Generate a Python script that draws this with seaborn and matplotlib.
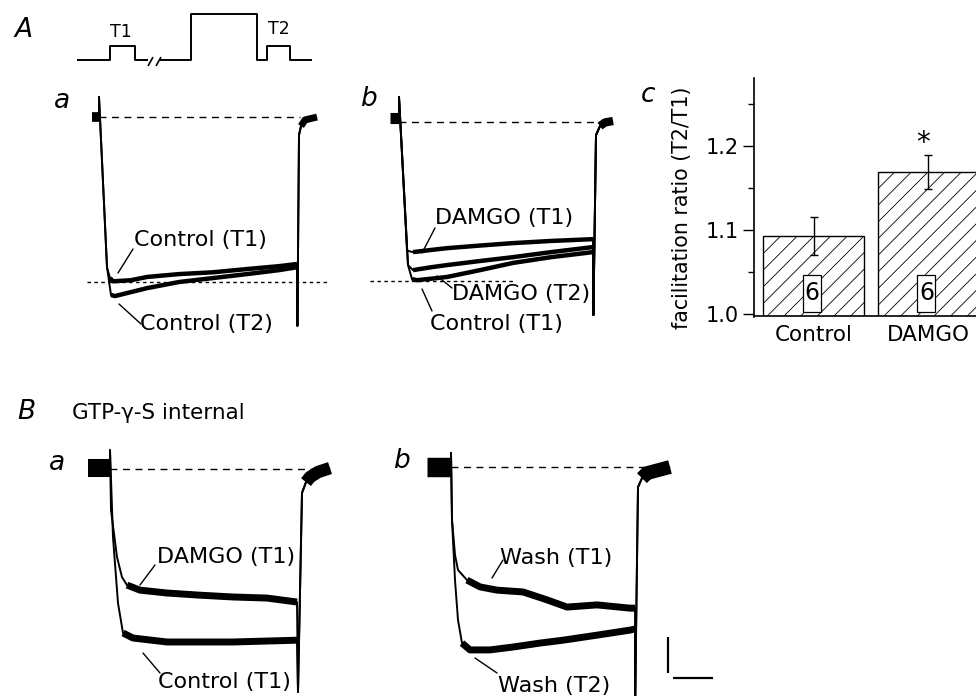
import numpy as np
import matplotlib
matplotlib.use("Agg")
import matplotlib.pyplot as plt
import seaborn as sns
from matplotlib.patches import Rectangle

# ---- trace data (time in ms, current in nA; 0 = holding level) ----
# A a: control, T1 vs T2
aa_on_t = [0.0, 0.0, 2.0]
aa_on_i = [0.0, 0.056, -0.417]
aa_ctl1_t = [2.0, 2.75, 3.5, 8, 12, 20, 28.5, 37, 45, 49.5]
aa_ctl1_i = [-0.417, -0.447, -0.456, -0.453, -0.444, -0.436, -0.431, -0.422, -0.414, -0.408]
aa_ctl2_t = [2.0, 3.0, 4.0, 8, 12, 20, 28.5, 37, 45, 49.5]
aa_ctl2_i = [-0.417, -0.494, -0.497, -0.486, -0.475, -0.458, -0.447, -0.436, -0.425, -0.417]
aa_tail_t = [49.6, 50.0]
aa_tail_i = [-0.58, -0.05]
aa_post_t = [50.0, 50.5, 51.5, 54.5]
aa_post_i = [-0.05, -0.025, -0.008, 0.0]

# A b: DAMGO T1/T2 and control T1
ab_on_t = [0.0, 0.0]
ab_on_i = [0.0, 0.067]
ab_dam1_t = [2.0, 3.5, 8, 12, 20, 28.5, 38, 48.5]
ab_dam1_i = [-0.36, -0.364, -0.358, -0.353, -0.346, -0.339, -0.333, -0.328]
ab_dam2_t = [2.25, 3.5, 8, 12, 20, 28.5, 38, 48.5]
ab_dam2_i = [-0.40, -0.414, -0.406, -0.40, -0.389, -0.378, -0.364, -0.35]
ab_ctl1_t = [2.25, 3.25, 4.5, 12, 20.25, 28.5, 38, 48.5]
ab_ctl1_i = [-0.40, -0.439, -0.442, -0.433, -0.414, -0.394, -0.378, -0.364]
ab_tail_t = [48.6, 49.25]
ab_tail_i = [-0.539, -0.039]
ab_post_t = [49.25, 50.25, 51.5, 53.5]
ab_post_i = [-0.039, -0.014, -0.004, 0.0]

# B a: GTP-g-S internal, control T1 vs DAMGO T1
ba_on_t = [0.0, 0.0]
ba_on_i = [0.0, 0.05]
ba_dam_t = [0.25, 1.75, 3.0, 4.25, 7.5, 14.25, 22.5, 30.75, 39.25, 46.75]
ba_dam_i = [-0.117, -0.247, -0.303, -0.325, -0.339, -0.347, -0.353, -0.358, -0.361, -0.372]
ba_ctl_t = [0.75, 2.0, 3.25, 5.75, 14.25, 30.75, 46.75]
ba_ctl_i = [-0.192, -0.375, -0.458, -0.472, -0.483, -0.483, -0.478]
ba_tail_t = [47.0, 48.0]
ba_tail_i = [-0.622, -0.069]
ba_post_t = [48.0, 49.0, 50.0, 52.0, 55.0]
ba_post_i = [-0.069, -0.039, -0.025, -0.011, 0.0]

# B b: wash T1 vs T2
bb_on_t = [0.0, 0.0, 0.25]
bb_on_i = [0.0, 0.039, -0.147]
bb_wash1_t = [1.0, 1.75, 4.0, 7.25, 11.5, 18, 24, 29, 36.5, 44.75, 46.0]
bb_wash1_i = [-0.244, -0.286, -0.314, -0.333, -0.342, -0.347, -0.369, -0.389, -0.383, -0.392, -0.392]
bb_wash2_t = [1.0, 1.75, 2.75, 4.75, 9.75, 15.5, 22.25, 28, 36.5, 44.75, 46.0]
bb_wash2_i = [-0.314, -0.425, -0.489, -0.508, -0.508, -0.50, -0.489, -0.481, -0.467, -0.453, -0.45]
bb_tail_t = [46.05, 46.75]
bb_tail_i = [-0.636, -0.056]
bb_post_t = [46.75, 47.75, 49.0, 54.75]
bb_post_i = [-0.056, -0.031, -0.017, 0.0]

# scale bar
scale_ms = 10
scale_na = 0.1

# voltage protocol (schematic, test pulse = 1)
proto1_t = [0, 8.25, 8.25, 14.5, 14.5, 17.75]
proto1_v = [0, 0, 1, 1, 0, 0]
proto2_t = [20.75, 28.5, 28.5, 45, 45, 47.5, 47.5, 53.25, 53.25, 58.75]
proto2_v = [0, 0, 3.29, 3.29, 0, 0, 1, 1, 0, 0]

# A c: facilitation ratio
groups = ["Control", "DAMGO"]
ratio = [1.093, 1.169]
ratio_sem = [0.023, 0.020]
n_cells = [6, 6]

# ---- figure ----
sns.set_style("white")
plt.rcParams["font.family"] = ["DejaVu Sans"]
plt.rcParams["hatch.linewidth"] = 0.6
for key in ["text.color", "axes.labelcolor", "xtick.color", "ytick.color"]:
    plt.rcParams[key] = "black"

W, H = 976, 696
PX_MS, PX_NA = 4.0, 360.0
fig = plt.figure(figsize=(W / 100, H / 100), dpi=100)


def add_ax(left, top, right, bottom):
    return fig.add_axes([left / W, 1 - bottom / H, (right - left) / W, (bottom - top) / H])


def trace_ax(box, origin):
    left, top, right, bottom = box
    x0, y0 = origin
    ax = add_ax(*box)
    ax.set_xlim((left - x0) / PX_MS, (right - x0) / PX_MS)
    ax.set_ylim((y0 - bottom) / PX_NA, (y0 - top) / PX_NA)
    ax.axis("off")
    return ax


def line(ax, t, i, lw, **kw):
    sns.lineplot(x=list(t), y=list(i), ax=ax, color="black", linewidth=lw,
                 sort=False, estimator=None, solid_capstyle="butt", **kw)


def draw_trace(ax, on_t, on_i, st_t, st_i, tail_t, tail_i, post_t, post_i,
               thin, thick, skip=0):
    t = on_t + st_t + tail_t + post_t
    i = on_i + st_i + tail_i + post_i
    line(ax, t, i, thin)
    line(ax, st_t[skip:], st_i[skip:], thick)


def leader(x1, y1, x2, y2):
    fig.add_artist(plt.Line2D([x1 / W, x2 / W], [1 - y1 / H, 1 - y2 / H],
                              color="black", lw=1.0))


def label(x, y, s, size=16, **kw):
    fig.text(x / W, 1 - y / H, s, fontsize=size, ha="left", va="center", **kw)


# protocol
ax = add_ax(70, 5, 320, 75)
line(ax, proto1_t, proto1_v, 1.4)
line(ax, proto2_t, proto2_v, 1.4)
line(ax, [17.75, 19.0], [-0.43, 0.21], 1.2)
line(ax, [19.75, 21.0], [-0.43, 0.21], 1.2)
ax.set_xlim(-1.75, 60.75)
ax.set_ylim(-1.07, 3.93)
ax.axis("off")
label(110, 32, "T1", size=12.5)
label(268, 29, "T2", size=12.5)

# A a
ax = trace_ax((80, 85, 340, 340), (99, 117))
line(ax, [-1.75, 0], [0, 0], 7)
for st_t, st_i in [(aa_ctl1_t, aa_ctl1_i), (aa_ctl2_t, aa_ctl2_i)]:
    draw_trace(ax, aa_on_t, aa_on_i, st_t, st_i, aa_tail_t, aa_tail_i,
               aa_post_t, aa_post_i, 1.4, 3.2, skip=1)
line(ax, aa_post_t[1:], aa_post_i[1:], 5)
ax.hlines(0, 0, 50.25, colors="black", lw=1.0, linestyles=(0, (5, 4)))
ax.hlines(-0.458, -3, 57.75, colors="black", lw=1.0, linestyles=(0, (2.5, 2.5)))
ax.set_xlim(-4.75, 60.25)
ax.set_ylim(-0.619, 0.089)

# A b
ax = trace_ax((360, 85, 640, 340), (399, 121))
line(ax, [-2.25, 0], [0.007, 0.007], 8)
for st_t, st_i in [(ab_dam1_t, ab_dam1_i), (ab_dam2_t, ab_dam2_i), (ab_ctl1_t, ab_ctl1_i)]:
    draw_trace(ax, ab_on_t, ab_on_i, st_t, st_i, ab_tail_t, ab_tail_i,
               ab_post_t, ab_post_i, 1.4, 3.2, skip=1)
line(ax, ab_post_t[1:], ab_post_i[1:], 6)
ax.hlines(-0.003, 0, 50.25, colors="black", lw=1.0, linestyles=(0, (5, 4)))
ax.hlines(-0.444, -7.25, 29, colors="black", lw=1.0, linestyles=(0, (2.5, 2.5)))
ax.set_xlim(-9.75, 60.25)
ax.set_ylim(-0.608, 0.1)

# B a
ax = trace_ax((80, 440, 340, 696), (110, 468))
line(ax, [-5.5, 0], [0.0, 0.0], 13)
draw_trace(ax, ba_on_t, ba_on_i, ba_dam_t, ba_dam_i, ba_tail_t, ba_tail_i,
           ba_post_t, ba_post_i, 1.4, 5.0, skip=3)
draw_trace(ax, ba_on_t, ba_on_i, ba_ctl_t, ba_ctl_i, ba_tail_t, ba_tail_i,
           ba_post_t, ba_post_i, 1.4, 5.0, skip=2)
line(ax, ba_post_t[1:], ba_post_i[1:], 9)
ax.hlines(-0.003, 0, 50.5, colors="black", lw=1.0, linestyles=(0, (5, 4)))
ax.set_xlim(-7.5, 57.5)
ax.set_ylim(-0.633, 0.078)

# B b
ax = trace_ax((415, 440, 720, 696), (451, 467))
line(ax, [-6, 0], [0.0, 0.0], 14)
draw_trace(ax, bb_on_t, bb_on_i, bb_wash1_t, bb_wash1_i, bb_tail_t, bb_tail_i,
           bb_post_t, bb_post_i, 1.4, 5.0, skip=2)
draw_trace(ax, bb_on_t, bb_on_i, bb_wash2_t, bb_wash2_i, bb_tail_t, bb_tail_i,
           bb_post_t, bb_post_i, 1.4, 5.0, skip=2)
line(ax, bb_post_t[1:], bb_post_i[1:], 10)
ax.hlines(0, 0, 49, colors="black", lw=1.0, linestyles=(0, (5, 4)))
# scale bar
ax.vlines(54.25, -0.472 - scale_na, -0.472, colors="black", lw=1.6)
ax.hlines(-0.586, 55.5, 55.5 + scale_ms, colors="black", lw=1.6)
ax.set_xlim(-9.0, 67.25)
ax.set_ylim(-0.636, 0.075)

# trace labels
label(134, 240, "Control (T1)")
label(140, 324, "Control (T2)")
leader(133, 249, 118, 273)
leader(141, 324, 119, 304)
label(435, 218, "DAMGO (T1)")
label(452, 294, "DAMGO (T2)")
label(430, 324, "Control (T1)")
leader(435, 228, 422, 253)
leader(452, 288, 437, 276)
leader(432, 311, 422, 289)
label(157, 557, "DAMGO (T1)")
label(158, 682, "Control (T1)")
leader(155, 565, 140, 585)
leader(160, 673, 143, 653)
label(500, 558, "Wash (T1)")
label(498, 686, "Wash (T2)")
leader(503, 560, 492, 578)
leader(497, 673, 475, 658)

# A c bar chart
ax = add_ax(754, 78, 976, 316.5)
sns.barplot(x=groups, y=ratio, ax=ax, color="white", width=0.88,
            edgecolor="black", linewidth=1.0, errorbar=None)
for p in ax.patches:
    p.set_facecolor("white")
    p.set_hatch("//")
ax.errorbar(x=[0, 1], y=ratio, yerr=ratio_sem, fmt="none", ecolor="black",
            elinewidth=1.0, capsize=3, capthick=1.0)
for k, n in enumerate(n_cells):
    ax.add_patch(Rectangle((k - 0.092, 1.0024), 0.157, 0.044, facecolor="white",
                           edgecolor="black", lw=0.9, zorder=3))
    ax.text(k - 0.013, 1.0244, str(n), fontsize=17, ha="center", va="center", zorder=4)
ax.text(1 - 0.04, 1.2036, "*", fontsize=20, ha="center", va="center")
ax.set_xlim(-0.52, 1.42)
ax.set_ylim(0.997, 1.281)
ax.set_yticks([1.0, 1.1, 1.2])
ax.set_yticklabels(["1.0", "1.1", "1.2"])
ax.set_yticks([1.05, 1.15, 1.25], minor=True)
ax.tick_params(axis="y", which="major", direction="out", length=8, width=1.0,
               labelsize=15, pad=3, left=True)
ax.tick_params(axis="y", which="minor", direction="out", length=4.5, width=1.0, left=True)
ax.tick_params(axis="x", length=0, labelsize=15.5, pad=6)
for s in ["top", "right"]:
    ax.spines[s].set_visible(False)
for s in ["left", "bottom"]:
    ax.spines[s].set_linewidth(1.2)
    ax.spines[s].set_color("black")
ax.set_xlabel("")
ax.set_ylabel("facilitation ratio (T2/T1)", fontsize=14.8)
ax.yaxis.set_label_coords(-0.28, 0.454)

# panel letters and header
for x, y, s in [(23, 30, "A"), (62, 101, "a"), (368, 99, "b"), (648, 95, "c"),
                (26, 412, "B"), (57, 463, "a"), (401, 461, "b")]:
    fig.text(x / W, 1 - y / H, s, fontsize=19, style="italic", ha="center", va="center")
label(72, 413, "GTP-\u03b3-S internal", size=15.5)

fig.savefig("out.png", dpi=100)
